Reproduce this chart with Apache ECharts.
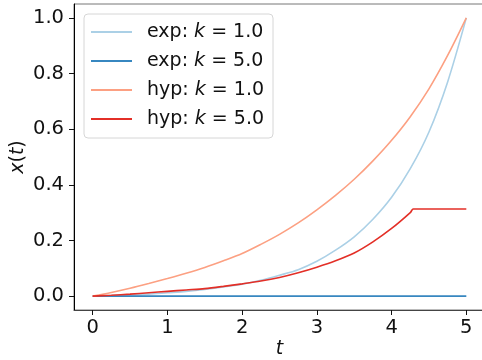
<!DOCTYPE html>
<html>
<head>
<meta charset="utf-8">
<script src="https://cdn.jsdelivr.net/npm/echarts@6/dist/echarts.min.js"></script>
<style>
  html, body { margin: 0; padding: 0; background: #fff; }
  #chart { width: 482px; height: 360px; }
</style>
</head>
<body>
<div id="chart"></div>
<script>
// time grid (t)
const tValues = [0, 0.25, 0.5, 0.75, 1, 1.25, 1.5, 1.75, 2, 2.25, 2.5, 2.75, 3, 3.25, 3.5, 3.75, 4, 4.25, 4.5, 4.75, 5];
const expK1 = [0, 0.002, 0.004, 0.007, 0.012, 0.017, 0.024, 0.033, 0.043, 0.057, 0.075, 0.095, 0.125, 0.165, 0.213, 0.276, 0.355, 0.458, 0.59, 0.77, 1.0];
const expK5 = [0, 0, 0, 0, 0, 0, 0, 0, 0, 0, 0, 0, 0, 0, 0, 0, 0, 0, 0, 0, 0];
const hypK1 = [0, 0.013, 0.028, 0.045, 0.063, 0.082, 0.103, 0.127, 0.153, 0.186, 0.222, 0.263, 0.31, 0.362, 0.42, 0.486, 0.56, 0.645, 0.745, 0.865, 1.0];
// hyp k=5 stops rising near t=4.29 and stays flat
const hypK5T = [0, 0.25, 0.5, 0.75, 1, 1.25, 1.5, 1.75, 2, 2.25, 2.5, 2.75, 3, 3.25, 3.5, 3.75, 4, 4.25, 4.29, 4.5, 4.75, 5];
const hypK5 = [0, 0.003, 0.007, 0.012, 0.017, 0.022, 0.027, 0.035, 0.044, 0.054, 0.067, 0.084, 0.104, 0.127, 0.155, 0.195, 0.243, 0.3, 0.313, 0.313, 0.313, 0.313];

const xTicks = [0, 1, 2, 3, 4, 5];
const yTicks = [0, 0.2, 0.4, 0.6, 0.8, 1.0];

const seriesNames = ['exp: k = 1.0', 'exp: k = 5.0', 'hyp: k = 1.0', 'hyp: k = 5.0'];
const seriesColors = ['#abd0e6', '#3787c0', '#fca082', '#e32f27'];

const FONT = 'DejaVu Sans';

function pairs(ts, ys) {
  return ts.map((t, i) => [t, ys[i]]);
}

const chart = echarts.init(document.getElementById('chart'), null, { renderer: 'canvas' });

const dataSets = [pairs(tValues, expK1), pairs(tValues, expK5), pairs(tValues, hypK1), pairs(hypK5T, hypK5)];

const option = {
  animation: false,
  grid: {
    left: 74,
    right: -3,
    top: 4,
    bottom: 50,
    outerBoundsMode: 'none',
    show: true,
    borderColor: '#777',
    borderWidth: 1,
  },
  legend: {
    orient: 'vertical',
    left: 84,
    top: 14,
    padding: [8, 9, 9, 7],
    backgroundColor: 'rgba(255,255,255,0.85)',
    borderColor: '#d6d6d6',
    borderWidth: 1,
    borderRadius: 4,
    itemWidth: 41,
    itemHeight: 2,
    itemGap: 9,
    icon: 'rect',
    data: seriesNames,
    formatter: (name) => {
      const parts = name.split('k');
      return parts[0] + '{i|k}' + parts[1];
    },
    textStyle: {
      fontFamily: FONT,
      fontSize: 19,
      color: '#111',
      lineHeight: 20,
      padding: [0, 0, 0, 10],
      rich: {
        i: { fontFamily: FONT, fontSize: 19, fontStyle: 'italic', color: '#111' },
      },
    },
  },
  xAxis: {
    type: 'value',
    min: -0.25,
    max: 5.25,
    name: 't',
    nameLocation: 'middle',
    nameGap: 30,
    nameMoveOverlap: false,
    nameTextStyle: { fontFamily: FONT, fontSize: 19, fontStyle: 'italic', color: '#111' },
    axisLine: { show: true, onZero: false, lineStyle: { color: '#444', width: 1 } },
    axisTick: { show: true, length: 5, lineStyle: { color: '#111' }, customValues: xTicks },
    axisLabel: {
      fontFamily: FONT,
      fontSize: 19.5,
      color: '#111',
      margin: 8,
      customValues: xTicks,
      formatter: (v) => String(Math.round(v)),
    },
    splitLine: { show: false },
  },
  yAxis: {
    type: 'value',
    min: -0.05,
    max: 1.05,
    name: '{i|x}({i|t})',
    nameLocation: 'middle',
    nameGap: 46,
    nameRotate: 90,
    nameMoveOverlap: false,
    nameTextStyle: {
      fontFamily: FONT,
      fontSize: 19,
      color: '#111',
      rich: { i: { fontFamily: FONT, fontSize: 19, fontStyle: 'italic', color: '#111' } },
    },
    axisLine: { show: true, onZero: false, lineStyle: { color: '#000', width: 1 } },
    axisTick: { show: true, length: 5, lineStyle: { color: '#111' }, customValues: yTicks },
    axisLabel: {
      fontFamily: FONT,
      fontSize: 19.5,
      color: '#111',
      margin: 10,
      customValues: yTicks,
      formatter: (v) => v.toFixed(1),
    },
    splitLine: { show: false },
  },
  series: seriesNames.map((name, i) => ({
    name,
    type: 'line',
    data: dataSets[i],
    showSymbol: false,
    symbol: 'none',
    smooth: 0.3,
    color: seriesColors[i],
    lineStyle: { color: seriesColors[i], width: 1.6 },
    z: 2 + i,
  })),
};

chart.setOption(option);
</script>
</body>
</html>
